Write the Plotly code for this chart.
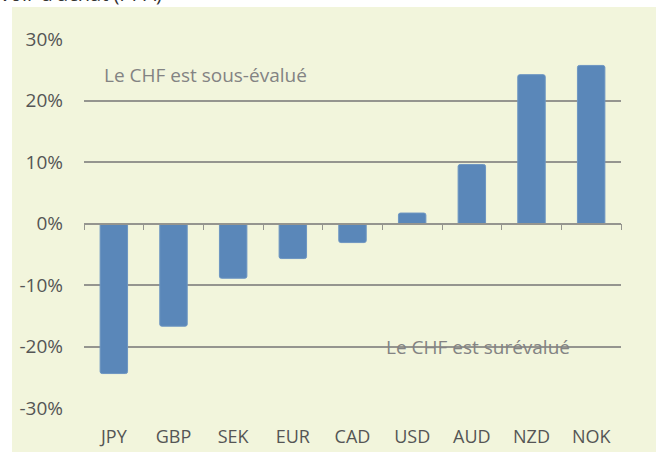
import plotly.graph_objects as go

categories = ["JPY", "GBP", "SEK", "EUR", "CAD", "USD", "AUD", "NZD", "NOK"]
values = [-24.4, -16.7, -8.9, -5.7, -3.1, 1.7, 9.6, 24.2, 25.7]
y_ticks = [-30, -20, -10, 0, 10, 20, 30]
y_labels = [f"{v}%" for v in y_ticks]

W, H = 656, 452
L, R, T, B = 84, 35, 39, 44
pw, ph = W - L - R, H - T - B

panel = "#F2F5DC"
grid = "#95958F"
txt = "#555555"
font = "Open Sans, Noto Sans, sans-serif"

fig = go.Figure()
fig.add_trace(go.Bar(
    x=list(range(len(categories))), y=values,
    width=0.46,
    marker=dict(color="#5A87B9", line=dict(color="#6E96C2", width=1), cornerradius=2),
    hoverinfo="skip", showlegend=False,
))
# invisible helper trace for the zero-line axis with boundary ticks
fig.add_trace(go.Scatter(x=[-0.5, len(categories) - 0.5], y=[0, 0], xaxis="x2",
                         mode="lines", line=dict(width=0), hoverinfo="skip", showlegend=False))

bounds = [i - 0.5 for i in range(len(categories) + 1)]

fig.update_layout(
    width=W, height=H,
    margin=dict(l=L, r=R, t=T, b=B, autoexpand=False),
    paper_bgcolor="white",
    plot_bgcolor="rgba(0,0,0,0)",
    font=dict(family=font, size=19, color=txt),
    bargap=0.5,
    xaxis=dict(
        range=[-0.5, len(categories) - 0.5], automargin=False,
        tickvals=list(range(len(categories))), ticktext=categories,
        showgrid=False, zeroline=False, showline=False, ticks="",
        ticklabelstandoff=16,
        tickfont=dict(size=18, color=txt),
    ),
    xaxis2=dict(
        overlaying="x", anchor="free", position=0.5, side="bottom", automargin=False,
        range=[-0.5, len(categories) - 0.5],
        tickvals=bounds, showticklabels=False,
        ticks="outside", ticklen=6, tickwidth=1.3, tickcolor=grid,
        showline=True, linecolor=grid, linewidth=1.6,
        showgrid=False, zeroline=False,
    ),
    yaxis=dict(
        range=[-30, 30], automargin=False,
        tickvals=y_ticks, ticktext=y_labels,
        showgrid=True, gridcolor=grid, gridwidth=1.5,
        zeroline=False, showline=False, ticks="",
        ticklabelstandoff=20,
        tickfont=dict(size=19, color=txt),
    ),
    shapes=[dict(type="rect", xref="paper", yref="paper", layer="below",
                 x0=(12 - L) / pw, x1=(W + 5 - L) / pw,
                 y0=-(B + 5) / ph, y1=(H - B - 7) / ph,
                 fillcolor=panel, line=dict(width=0))],
    annotations=[
        dict(text="Le CHF est sous-évalué", xref="paper", yref="y",
             x=(102 - L) / pw, y=24.1, xanchor="left", yanchor="middle",
             showarrow=False, font=dict(size=19, color="#838383")),
        dict(text="Le CHF est surévalué", xref="paper", yref="y",
             x=(478 - L) / pw, y=-20, xanchor="center", yanchor="middle",
             showarrow=False, font=dict(size=19, color="#838383")),
        dict(text="voir d'achat (PPA)", xref="paper", yref="paper",
             x=(-2 - L) / pw, y=(H - B - 9) / ph, xanchor="left", yanchor="bottom",
             showarrow=False, font=dict(size=20, color="#333333")),
    ],
)

fig.write_html("out.html", config={"displayModeBar": False},
               post_script="document.body.style.margin='0';document.body.style.overflow='hidden';")
